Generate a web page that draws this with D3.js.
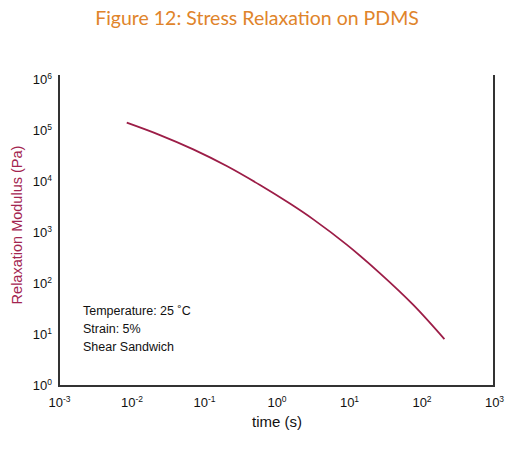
<!DOCTYPE html>
<html>
<head>
<meta charset="utf-8">
<script src="https://cdn.jsdelivr.net/npm/d3@7"></script>
<style>
  html, body { margin: 0; padding: 0; background: #fff; }
  svg { display: block; }
</style>
</head>
<body>
<svg id="chart" width="522" height="451"></svg>
<script>
// time (s) and relaxation modulus (Pa)
const timeValues    = [0.0086, 0.0247, 0.0711, 0.206, 0.592, 1.53, 3.22, 9.29, 26.8, 77.1, 207];
const modulusValues = [133000, 76000, 39900, 18800, 7980, 3450, 1690, 540, 148, 35.6, 7.6];
const xTickExps = [-3, -2, -1, 0, 1, 2, 3];
const yTickExps = [0, 1, 2, 3, 4, 5, 6];
const notes = ["Temperature: 25 \u02DAC", "Strain: 5%", "Shear Sandwich"];

const W = 522, H = 451;
const m = { top: 75, right: 28, bottom: 65, left: 59 };
const frameRight = W - m.right, frameBottom = H - m.bottom;

const svg = d3.select("#chart");
const FONT = "'Liberation Sans', Arial, sans-serif";

const x = d3.scaleLog().domain([1e-3, 1e3]).range([m.left, frameRight]);
const y = d3.scaleLog().domain([1, 1e6]).range([384, 78]);

// title
svg.append("text")
    .attr("x", 257).attr("y", 25)
    .attr("text-anchor", "middle")
    .attr("font-family", "Lato, 'Open Sans', sans-serif")
    .attr("font-size", 19.5)
    .attr("fill", "#e0842a")
    .text("Figure 12: Stress Relaxation on PDMS");

// frame: left, bottom, right (no top)
svg.append("path")
    .attr("d", `M${m.left},${m.top}V${frameBottom}H${frameRight}V${m.top}`)
    .attr("fill", "none")
    .attr("stroke", "#333")
    .attr("stroke-width", 2);

function powLabel(sel, e) {
    sel.text(null);
    sel.append("tspan").text("10");
    sel.append("tspan").attr("font-size", 8.5).attr("dy", -5).text(e);
}

// x axis labels
svg.append("g")
    .attr("transform", `translate(0,${frameBottom})`)
    .call(d3.axisBottom(x).tickValues(xTickExps.map(e => Math.pow(10, e))).tickSize(0).tickFormat(""))
    .call(g => g.select(".domain").remove())
    .call(g => g.selectAll(".tick text").remove())
    .call(g => g.selectAll(".tick").each(function(d, i) {
        const t = d3.select(this).append("text")
            .attr("y", 21)
            .attr("text-anchor", "middle")
            .attr("font-family", FONT)
            .attr("font-size", 13)
            .attr("fill", "#111");
        powLabel(t, xTickExps[i]);
    }));

// y axis labels
svg.append("g")
    .attr("transform", `translate(${m.left},0)`)
    .call(d3.axisLeft(y).tickValues(yTickExps.map(e => Math.pow(10, e))).tickSize(0).tickFormat(""))
    .call(g => g.select(".domain").remove())
    .call(g => g.selectAll(".tick text").remove())
    .call(g => g.selectAll(".tick").each(function(d, i) {
        const t = d3.select(this).append("text")
            .attr("x", -7).attr("y", 5)
            .attr("text-anchor", "end")
            .attr("font-family", FONT)
            .attr("font-size", 13)
            .attr("fill", "#111");
        powLabel(t, yTickExps[i]);
    }));

// axis titles
svg.append("text")
    .attr("x", 277).attr("y", 427)
    .attr("text-anchor", "middle")
    .attr("font-family", FONT)
    .attr("font-size", 15)
    .attr("fill", "#111")
    .text("time (s)");

svg.append("text")
    .attr("transform", `translate(22,225) rotate(-90)`)
    .attr("text-anchor", "middle")
    .attr("font-family", FONT)
    .attr("font-size", 14.5)
    .attr("fill", "#a3244f")
    .text("Relaxation Modulus (Pa)");

// curve
const pts = timeValues.map((t, i) => ({ t, g: modulusValues[i] }));
svg.append("path")
    .datum(pts)
    .attr("fill", "none")
    .attr("stroke", "#9c1d47")
    .attr("stroke-width", 1.8)
    .attr("d", d3.line().x(d => x(d.t)).y(d => y(d.g)).curve(d3.curveCatmullRom));

// annotation
notes.forEach((s, i) => {
    svg.append("text")
        .attr("x", 83).attr("y", 315 + i * 18)
        .attr("font-family", FONT)
        .attr("font-size", 12.5)
        .attr("fill", "#111")
        .text(s);
});
</script>
</body>
</html>
